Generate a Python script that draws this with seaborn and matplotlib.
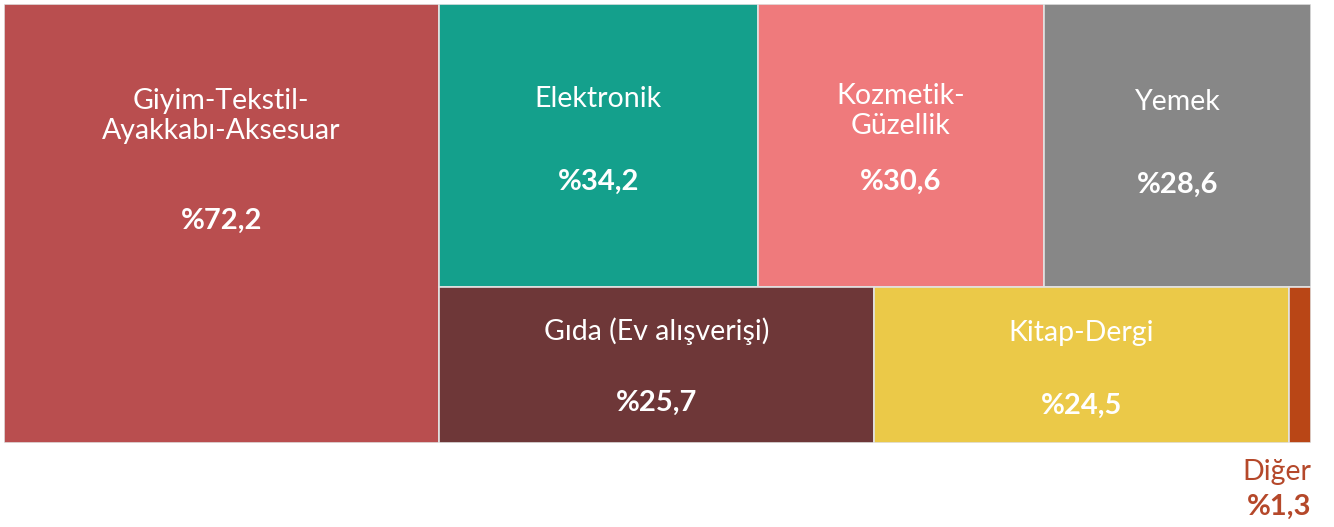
import seaborn as sns
import matplotlib.pyplot as plt
import numpy as np

# data
categories = ["Giyim-Tekstil-\nAyakkabı-Aksesuar", "Elektronik", "Kozmetik-\nGüzellik",
              "Yemek", "Gıda (Ev alışverişi)", "Kitap-Dergi", "Diğer"]
values = [72.2, 34.2, 30.6, 28.6, 25.7, 24.5, 1.3]
labels = ["%72,2", "%34,2", "%30,6", "%28,6", "%25,7", "%24,5", "%1,3"]
colors = ["#B94E4F", "#14A08C", "#EF7A7C", "#878787", "#6E3738", "#EBC948", "#B94616"]

# treemap grouping: first item as a full-height column, then two rows
groups = [[0], [1, 2, 3], [4, 5, 6]]

sns.set_theme(style="white")
plt.rcParams['font.family'] = ['Lato', 'DejaVu Sans']

fig = plt.figure(figsize=(13.34, 5.27), dpi=100)
ax = fig.add_axes([4 / 1334, 1 - 443 / 527, 1307 / 1334, 439 / 527])

total = sum(values)
rects = {}
# column
col_w = values[0] / total
rects[0] = (0, 0, col_w, 1)
rest = total - values[0]
y_top = 1.0
for g in groups[1:]:
    gsum = sum(values[i] for i in g)
    h = gsum / rest
    x = col_w
    for i in g:
        w = (1 - col_w) * values[i] / gsum
        rects[i] = (x, y_top - h, w, h)
        x += w
    y_top -= h

for i in range(len(values)):
    x, y, w, h = rects[i]
    ax.bar(x, h, width=w, bottom=y, align='edge', color=colors[i],
           edgecolor="#E2E2E2", linewidth=1.2)

# label placement inside boxes (fraction of box height from top)
name_pos = [0.255, 0.336, 0.378, 0.346, 0.284, 0.297]
pct_pos = [0.495, 0.63, 0.63, 0.64, 0.742, 0.761]
for i in range(6):
    x, y, w, h = rects[i]
    cx = x + w / 2
    ax.text(cx, y + h * (1 - name_pos[i]), categories[i], ha='center', va='center',
            color='white', fontsize=20.5, linespacing=1.16)
    ax.text(cx, y + h * (1 - pct_pos[i]), labels[i], ha='center', va='center',
            color='white', fontsize=21, fontweight='bold')

# small category labelled below the chart
ax.text(1.0, -0.065, categories[6], ha='right', va='center', color="#B5482A",
        fontsize=20.5, clip_on=False)
ax.text(1.0, -0.145, labels[6], ha='right', va='center', color="#B5482A",
        fontsize=21, fontweight='bold', clip_on=False)

ax.set_xlim(0, 1)
ax.set_ylim(0, 1)
ax.axis('off')

fig.savefig("out.png", dpi=100)
